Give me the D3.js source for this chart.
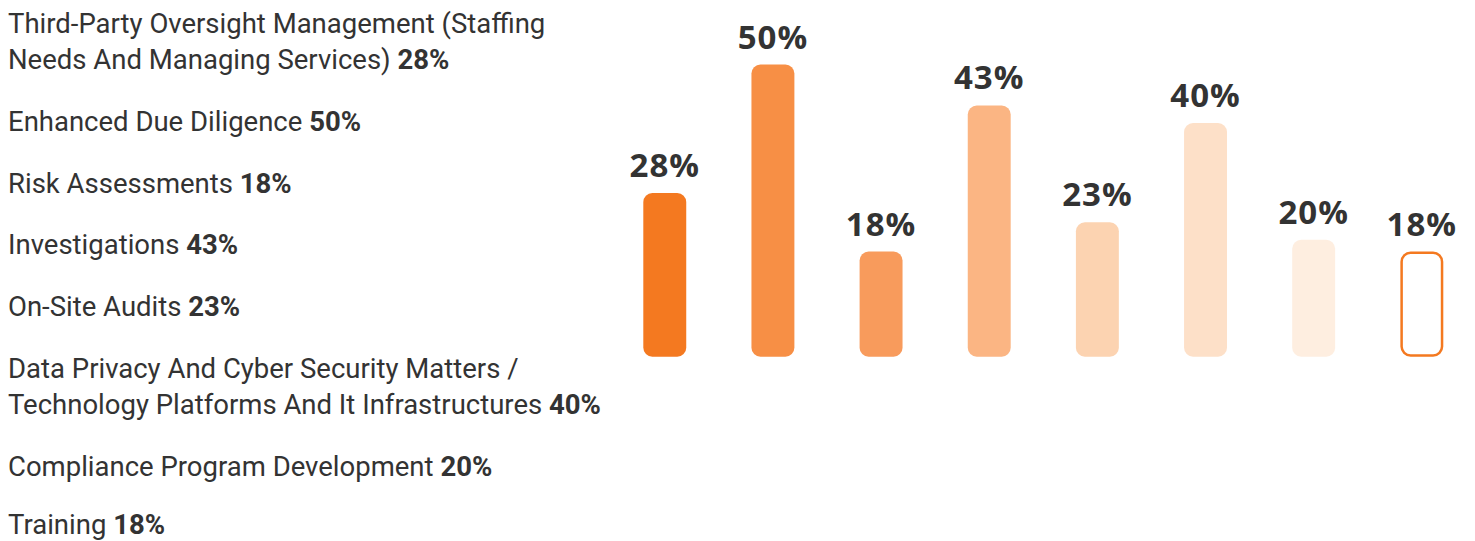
<!DOCTYPE html>
<html>
<head>
<meta charset="utf-8">
<script src="https://cdn.jsdelivr.net/npm/d3@7"></script>
<style>
  body { margin: 0; background: #fff; }
  svg { display: block; }
</style>
</head>
<body>
<div id="vis"></div>
<script>
const width = 1475;
const height = 541;

// Data
const categories = [
  ["Third-Party Oversight Management (Staffing", "Needs And Managing Services)"],
  ["Enhanced Due Diligence"],
  ["Risk Assessments"],
  ["Investigations"],
  ["On-Site Audits"],
  ["Data Privacy And Cyber Security Matters /", "Technology Platforms And It Infrastructures"],
  ["Compliance Program Development"],
  ["Training"]
];
const values = [28, 50, 18, 43, 23, 40, 20, 18];
const barColors = ["#f47920", "#f78f45", "#f89b5c", "#fbb583", "#fcd3b1", "#fde0c8", "#feeee0", "#ffffff"];

const svg = d3.select("#vis").append("svg")
  .attr("width", width)
  .attr("height", height);

// Left list of labels
const lineHeight = 36;
const itemGap = 61.7;
let yPos = 33.3;
const list = svg.append("g").attr("class", "list");

categories.forEach((lines, i) => {
  // keep the last line's descenders inside the picture
  const base = Math.min(yPos, height - 7);
  const t = list.append("text")
    .attr("x", 8)
    .attr("y", base)
    .attr("font-family", "Roboto, 'Noto Sans', sans-serif")
    .attr("font-size", 27.5)
    .attr("fill", "#333");
  lines.forEach((line, j) => {
    t.append("tspan")
      .attr("x", 8)
      .attr("y", base + j * lineHeight)
      .text(line);
  });
  t.append("tspan")
    .attr("font-weight", 700)
    .text(" " + values[i] + "%");
  yPos += itemGap + (lines.length - 1) * lineHeight;
});

// Bars
const x = d3.scaleBand()
  .domain(d3.range(values.length))
  .range([643.3, 1443.3])
  .paddingInner(0.603)
  .paddingOuter(0);

const y = d3.scaleLinear()
  .domain([0, 50])
  .range([356.7, 64.6]);

const last = values.length - 1;
const bars = svg.append("g").attr("class", "bars");

bars.selectAll("rect")
  .data(values)
  .enter().append("rect")
  .attr("x", (d, i) => x(i) + (i === last ? 1.25 : 0))
  .attr("y", (d, i) => y(d) + (i === last ? 1.25 : 0))
  .attr("width", (d, i) => x.bandwidth() - (i === last ? 2.5 : 0))
  .attr("height", (d, i) => y(0) - y(d) - (i === last ? 2.5 : 0))
  .attr("rx", 9)
  .attr("fill", (d, i) => barColors[i])
  .attr("stroke", (d, i) => i === last ? "#f47920" : "none")
  .attr("stroke-width", 2.5);

bars.selectAll("text")
  .data(values)
  .enter().append("text")
  .attr("x", (d, i) => x(i) + x.bandwidth() / 2)
  .attr("y", d => y(d) - 16)
  .attr("text-anchor", "middle")
  .attr("font-family", "'Open Sans', sans-serif")
  .attr("font-weight", 700)
  .attr("font-size", 33)
  .attr("letter-spacing", 1)
  .attr("fill", "#333")
  .text(d => d + "%");
</script>
</body>
</html>
